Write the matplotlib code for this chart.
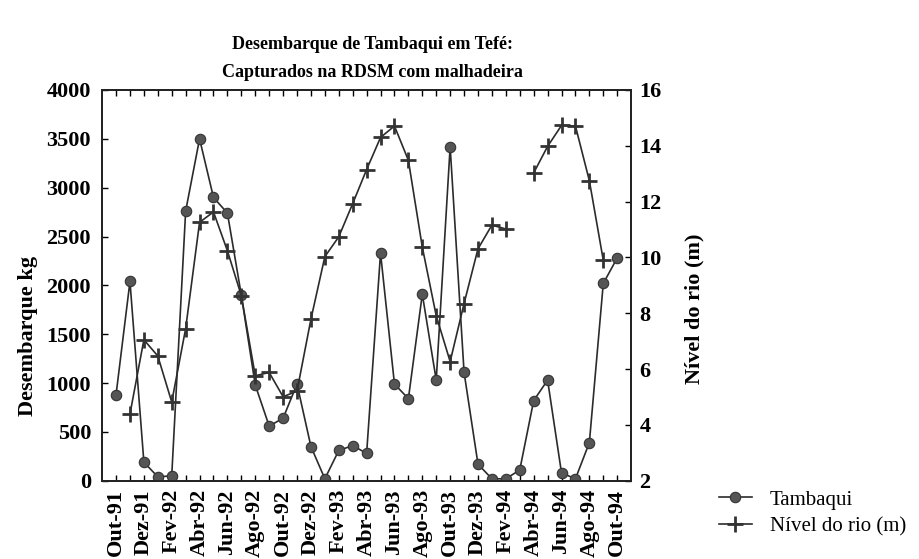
import numpy as np
import matplotlib
matplotlib.use("Agg")
import matplotlib.pyplot as plt
from matplotlib.lines import Line2D

# months Out-91 .. Out-94
months = [
    "Out-91", "Nov-91", "Dez-91", "Jan-92", "Fev-92", "Mar-92", "Abr-92",
    "Mai-92", "Jun-92", "Jul-92", "Ago-92", "Set-92", "Out-92", "Nov-92",
    "Dez-92", "Jan-93", "Fev-93", "Mar-93", "Abr-93", "Mai-93", "Jun-93",
    "Jul-93", "Ago-93", "Set-93", "Out-93", "Nov-93", "Dez-93", "Jan-94",
    "Fev-94", "Mar-94", "Abr-94", "Mai-94", "Jun-94", "Jul-94", "Ago-94",
    "Set-94", "Out-94",
]

tambaqui = [
    880, 2040, 190, 40, 50, 2760, 3500, 2900, 2740, 1900, 980, 560, 640,
    990, 350, 20, 310, 360, 280, 2330, 990, 840, 1910, 1030, 3420, 1110,
    170, 20, 20, 110, 820, 1030, 80, 20, 390, 2020, 2280,
]

nivel = [
    np.nan, 4.39, 7.05, 6.47, 4.82, 7.45, 11.26, 11.63, 10.24, 8.63, 5.76,
    5.88, 5.01, 5.21, 7.79, 10.03, 10.74, 11.93, 13.15, 14.30, 14.71, 13.48,
    10.37, 7.91, 6.27, 8.35, 10.31, 11.16, 11.02, np.nan, 13.03, 13.98,
    14.73, 14.71, 12.75, 9.90, np.nan,
]

plt.rcParams["font.family"] = ["Liberation Serif", "DejaVu Serif"]

LINE = "#2b2b2b"
DOT = "#555555"

fig = plt.figure(figsize=(9.2, 5.59), dpi=100)
ax = fig.add_axes([0.111, 0.140, 0.575, 0.699])
ax2 = ax.twinx()

x = np.arange(len(months))

ax.plot(x, tambaqui, color=LINE, lw=1.2, marker="o", ms=7.5,
        mfc=DOT, mec="#333333", mew=0.8, zorder=3)
ax2.plot(x, nivel, color=LINE, lw=1.2, marker="+", ms=12, mew=2.0,
         mec="#333333", zorder=3)

ax.set_xlim(-1, 37)
ax.set_ylim(0, 4000)
ax2.set_ylim(2, 16)

ax.set_xticks(x)
ax.set_xticklabels([m if i % 2 == 0 else "" for i, m in enumerate(months)],
                   rotation=90, fontsize=16, fontweight="bold")
ax.set_yticks(np.arange(0, 4001, 500))
ax.set_yticklabels([str(v) for v in range(0, 4001, 500)],
                   fontsize=16, fontweight="bold")
ax2.set_yticks(np.arange(2, 17, 2))
ax2.set_yticklabels([str(v) for v in range(2, 17, 2)],
                    fontsize=16, fontweight="bold")

ax.tick_params(axis="x", direction="in", length=4, width=1, top=True, pad=6)
ax.tick_params(axis="y", direction="in", length=4, width=1, pad=8)
ax2.tick_params(axis="y", direction="in", length=4, width=1, pad=6)

for a in (ax, ax2):
    for s in a.spines.values():
        s.set_linewidth(1.3)
        s.set_color("#222222")

ax.set_ylabel("Desembarque kg", fontsize=16, fontweight="bold")
ax.yaxis.set_label_coords(-0.121, 0.37)
ax2.set_ylabel("Nível do rio (m)", fontsize=16, fontweight="bold")
ax2.yaxis.set_label_coords(1.10, 0.44)

fig.text(0.405, 0.92, "Desembarque de Tambaqui em Tefé:",
         ha="center", va="center", fontsize=13, fontweight="bold")
fig.text(0.405, 0.87, "Capturados na RDSM com malhadeira",
         ha="center", va="center", fontsize=13, fontweight="bold")

handles = [
    Line2D([], [], color=LINE, lw=1.2, marker="o", ms=7.5, mfc=DOT,
           mec="#333333", mew=0.8),
    Line2D([], [], color=LINE, lw=1.2, marker="+", ms=12, mew=2.0,
           mec="#333333"),
]
fig.legend(handles, ["Tambaqui", "Nível do rio (m)"], loc="upper left",
           bbox_to_anchor=(0.770, 0.142), frameon=False, fontsize=15,
           handlelength=1.6, handletextpad=0.85, borderpad=0, labelspacing=0.35)

fig.savefig("out.png", dpi=100)
